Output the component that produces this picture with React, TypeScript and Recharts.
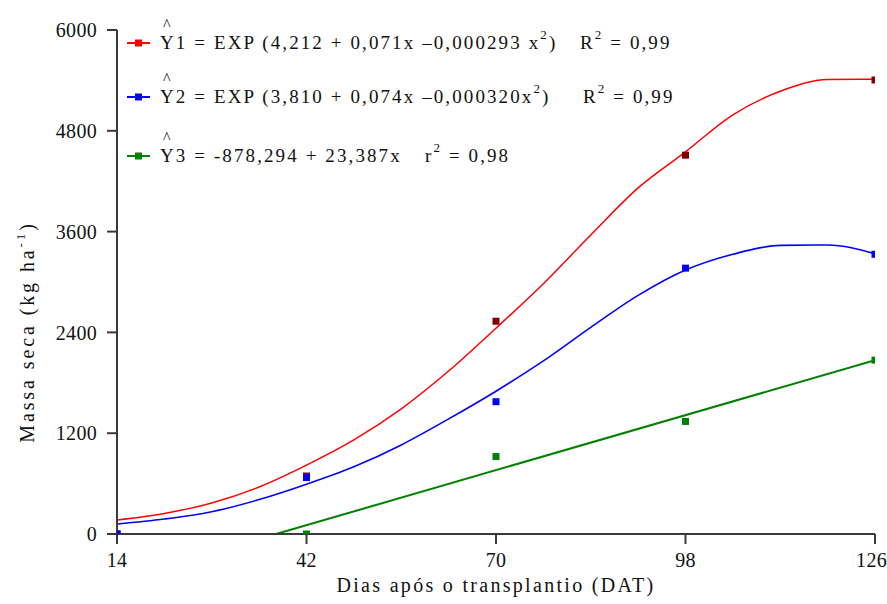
import React from "react";
import {
  ComposedChart, Line, Scatter, XAxis, YAxis, Customized,
} from "recharts";

// curve readings (days after transplant) taken off the figure
const curveDays = [14, 21, 28, 35, 42, 49, 56, 63, 70, 77, 84, 91, 98, 105, 112, 119, 126];
const curveY1 = [167, 245, 370, 560, 820, 1120, 1490, 1940, 2450, 2980, 3560, 4120, 4550, 4990, 5270, 5410, 5415];
const curveY2 = [119, 178, 265, 410, 593, 800, 1060, 1370, 1700, 2060, 2460, 2840, 3142, 3330, 3436, 3440, 3337];
const lineDays3 = [37.5, 126];
const lineY3 = [0, 2070];

// observed points
const sampleDays = [14, 42, 70, 98, 126];
const obsY1 = [0, 690, 2533, 4510, 5405];
const obsY2 = [0, 672, 1575, 3165, 3330];
const obsY3 = [0, 0, 922, 1340, 2070];

const xTicks = [14, 42, 70, 98, 126];
const yTicks = [0, 1200, 2400, 3600, 4800, 6000];

const RED = "#ff0000";
const RED_DOT = "#800000";
const BLUE = "#0000ff";
const GREEN = "#008000";
const AXIS = "#3a3a3a";
const FONT = "'Times New Roman', 'Liberation Serif', serif";

const pairs = (xs: number[], ys: number[]) => xs.map((x, i) => ({ x, y: ys[i] }));

const square = (fill: string) => (props: any) => {
  const { cx, cy } = props;
  if (cx == null || cy == null) return <g />;
  return <rect x={cx - 3.5} y={cy - 3.5} width={7} height={7} fill={fill} />;
};

function LegendRow({ y, color, children }: { y: number; color: string; children: React.ReactNode }) {
  return (
    <g>
      <line x1={127} x2={150} y1={y} y2={y} stroke={color} strokeWidth={2} />
      <rect x={135} y={y - 3.5} width={7} height={7} fill={color} />
      <text x={163} y={y - 13} style={{ fontFamily: FONT, fontSize: 16 }} fill="#111">^</text>
      {children}
    </g>
  );
}

function Overlay() {
  const t = { fontFamily: FONT, fontSize: 19, letterSpacing: 2.1 };
  return (
    <g fill="#111">
      <LegendRow y={43} color={RED}>
        <text x={160} y={49} style={t}>
          Y1 = EXP (4,212 + 0,071x –0,000293 x<tspan dy={-10} style={{ fontSize: 13 }}>2</tspan><tspan dy={10}>)</tspan>
        </text>
        <text x={580} y={49} style={t}>
          R<tspan dy={-10} style={{ fontSize: 13 }}>2</tspan><tspan dy={10}> = 0,99</tspan>
        </text>
      </LegendRow>
      <LegendRow y={97} color={BLUE}>
        <text x={160} y={103} style={t}>
          Y2 = EXP (3,810 + 0,074x –0,000320x<tspan dy={-10} style={{ fontSize: 13 }}>2</tspan><tspan dy={10}>)</tspan>
        </text>
        <text x={583} y={103} style={t}>
          R<tspan dy={-10} style={{ fontSize: 13 }}>2</tspan><tspan dy={10}> = 0,99</tspan>
        </text>
      </LegendRow>
      <LegendRow y={156} color={GREEN}>
        <text x={160} y={162} style={t}>
          Y3 = -878,294 + 23,387x
        </text>
        <text x={425} y={162} style={t}>
          r<tspan dy={-10} style={{ fontSize: 13 }}>2</tspan><tspan dy={10}> = 0,98</tspan>
        </text>
      </LegendRow>
      <text
        transform="translate(34 332) rotate(-90)"
        textAnchor="middle"
        style={{ fontFamily: FONT, fontSize: 20, letterSpacing: 2.9 }}
      >
        Massa seca (kg ha<tspan dy={-9} style={{ fontSize: 13 }}>-1</tspan><tspan dy={9}>)</tspan>
      </text>
    </g>
  );
}

export default function App() {
  const tick = { fontSize: 20, fontFamily: FONT, fill: "#111", letterSpacing: 0.3 };
  return (
    <div style={{ position: "absolute", left: 0, top: 0, width: 887, height: 604, background: "#fff", fontFamily: FONT }}>
      <ComposedChart width={887} height={604} margin={{ top: 30, right: 12, bottom: 10, left: 0 }}>
        <XAxis
          type="number"
          dataKey="x"
          domain={[14, 126]}
          ticks={xTicks}
          allowDataOverflow
          tick={tick}
          tickSize={10}
          tickMargin={9}
          height={60}
          stroke={AXIS}
          strokeWidth={2}
          label={{
            value: "Dias após o transplantio (DAT)",
            position: "insideBottom",
            offset: 2,
            style: { fontSize: 20, fontFamily: FONT, fill: "#111", letterSpacing: 2.3 },
          }}
        />
        <YAxis
          type="number"
          domain={[0, 6000]}
          ticks={yTicks}
          allowDataOverflow
          tick={tick}
          tickSize={10}
          tickMargin={10}
          width={117}
          stroke={AXIS}
          strokeWidth={2}
        />
        <Line data={pairs(curveDays, curveY1)} dataKey="y" type="monotone" stroke={RED} strokeWidth={1.5} dot={false} isAnimationActive={false} />
        <Line data={pairs(curveDays, curveY2)} dataKey="y" type="monotone" stroke={BLUE} strokeWidth={1.6} dot={false} isAnimationActive={false} />
        <Line data={pairs(lineDays3, lineY3)} dataKey="y" type="linear" stroke={GREEN} strokeWidth={2} dot={false} isAnimationActive={false} />
        <Scatter data={pairs(sampleDays, obsY1)} dataKey="y" shape={square(RED_DOT)} isAnimationActive={false} />
        <Scatter data={pairs(sampleDays, obsY3)} dataKey="y" shape={square(GREEN)} isAnimationActive={false} />
        <Scatter data={pairs(sampleDays, obsY2)} dataKey="y" shape={square(BLUE)} isAnimationActive={false} />
        <Customized component={Overlay} />
      </ComposedChart>
    </div>
  );
}
